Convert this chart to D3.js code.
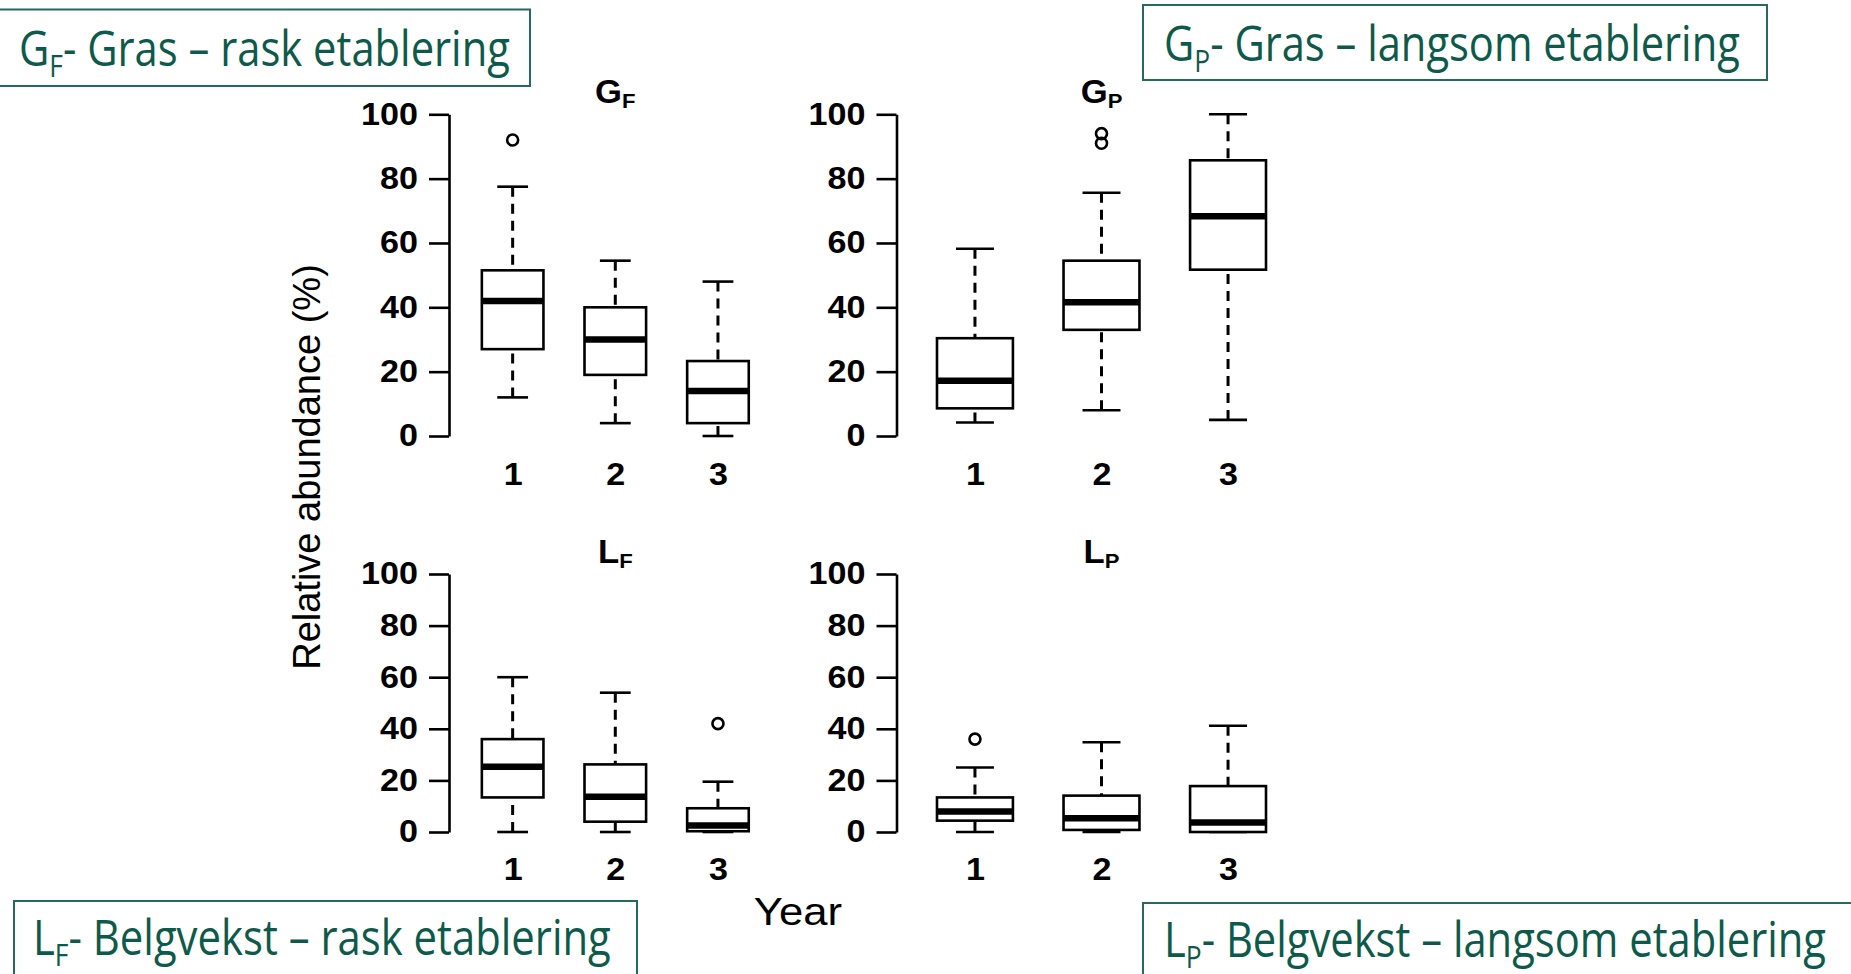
<!DOCTYPE html>
<html><head><meta charset="utf-8">
<script src="https://cdn.jsdelivr.net/npm/d3@7"></script>
<style>html,body{margin:0;padding:0;background:#fff;} svg{display:block;}</style>
</head><body>
<svg id="chart" width="1851" height="974"></svg>
<script>
// ---------- data ----------
const years = ["1", "2", "3"];
const yTicks = [0, 20, 40, 60, 80, 100];
// five-number summaries per year: [lower whisker, Q1, median, Q3, upper whisker]
const gfStats = [[12, 27, 42, 51.5, 77.5], [4, 19, 30, 40, 54.5], [0, 4, 14, 23.3, 48]];
const gfOutliers = [[92], [], []];
const gpStats = [[4.2, 8.6, 17.2, 30.4, 58.2], [8, 33, 41.6, 54.5, 75.6], [5, 51.7, 68.3, 85.7, 100]];
const gpOutliers = [[], [91, 94], []];
const lfStats = [[0, 13.4, 25.3, 36, 60], [0, 4, 13.7, 26.2, 54], [0, 0.3, 2.5, 9.2, 19.5]];
const lfOutliers = [[], [], [42]];
const lpStats = [[0, 4.4, 7.9, 13.4, 25], [0, 0.8, 5.3, 14.1, 34.8], [0, 0, 3.7, 17.8, 41.2]];
const lpOutliers = [[36], [], []];
const titleMain = ["G", "G", "L", "L"];
const titleSub = ["F", "P", "F", "P"];
const legendRest = ["- Gras – rask etablering", "- Gras – langsom etablering",
                    "- Belgvekst – rask etablering", "- Belgvekst – langsom etablering"];
const yLabel = "Relative abundance (%)";
const xLabel = "Year";

// ---------- layout ----------
const svg = d3.select("#chart");
const SX = 1.1; // horizontal stretch of the original figure text
const RFONT = "'Liberation Sans', Arial, Helvetica, sans-serif";
const panels = [
  {stats: gfStats, out: gfOutliers, xr: [449, 781.6], yr: [436, 114.3], titleY: 103, labY: 485},
  {stats: gpStats, out: gpOutliers, xr: [896.5, 1306.5], yr: [436, 114.3], titleY: 103, labY: 485},
  {stats: lfStats, out: lfOutliers, xr: [449, 781.6], yr: [832, 574], titleY: 563, labY: 880},
  {stats: lpStats, out: lpOutliers, xr: [896.5, 1306.5], yr: [832, 574], titleY: 563, labY: 880}
];

panels.forEach((p, pi) => {
  const x = d3.scaleLinear().domain([0.38, 3.62]).range(p.xr);
  const y = d3.scaleLinear().domain([0, 100]).range(p.yr);
  const bw = 0.6 * (x(2) - x(1));
  const g = svg.append("g");

  // y axis
  const ya = g.append("g").attr("transform", `translate(${p.xr[0]},0)`)
    .call(d3.axisLeft(y).tickValues(yTicks).tickSize(20).tickPadding(11).tickSizeOuter(0));
  ya.attr("font-family", RFONT).attr("font-size", 31).attr("font-weight", "bold");
  ya.select(".domain").attr("stroke", "#000").attr("stroke-width", 2.6);
  ya.selectAll(".tick line").attr("stroke", "#000").attr("stroke-width", 2.6);
  ya.selectAll(".tick text").attr("fill", "#000").each(function () {
    const t = d3.select(this); const xx = +t.attr("x");
    t.attr("x", 0).attr("transform", `translate(${xx},0) scale(${SX},1)`);
  });

  // x labels
  const xa = g.append("g").attr("transform", `translate(0,${p.labY})`)
    .call(d3.axisBottom(x).tickValues([1, 2, 3]).tickFormat((d, i) => years[i]).tickSize(0).tickPadding(0));
  xa.attr("font-family", RFONT).attr("font-size", 31).attr("font-weight", "bold");
  xa.select(".domain").remove();
  xa.selectAll(".tick text").attr("fill", "#000").attr("y", 0).attr("dy", 0)
    .attr("transform", `scale(${SX},1)`);

  // boxes
  p.stats.forEach((s, i) => {
    const cx = x(i + 1);
    const [lo, q1, md, q3, hi] = s;
    if (hi > q3) g.append("line").attr("x1", cx).attr("x2", cx).attr("y1", y(hi)).attr("y2", y(q3))
      .attr("stroke", "#000").attr("stroke-width", 3).attr("stroke-dasharray", "10,7");
    if (lo < q1) g.append("line").attr("x1", cx).attr("x2", cx).attr("y1", y(lo)).attr("y2", y(q1))
      .attr("stroke", "#000").attr("stroke-width", 3).attr("stroke-dasharray", "10,7");
    [lo, hi].forEach(v => g.append("line").attr("x1", cx - bw / 4).attr("x2", cx + bw / 4)
      .attr("y1", y(v)).attr("y2", y(v)).attr("stroke", "#000").attr("stroke-width", 2.6));
    g.append("rect").attr("x", cx - bw / 2).attr("y", y(q3)).attr("width", bw)
      .attr("height", Math.max(0, y(q1) - y(q3))).attr("fill", "#fff")
      .attr("stroke", "#000").attr("stroke-width", 2.6);
    g.append("line").attr("x1", cx - bw / 2).attr("x2", cx + bw / 2)
      .attr("y1", y(md)).attr("y2", y(md)).attr("stroke", "#000").attr("stroke-width", 6.5);
    p.out[i].forEach(v => g.append("circle").attr("cx", cx).attr("cy", y(v)).attr("r", 5.5)
      .attr("fill", "none").attr("stroke", "#000").attr("stroke-width", 2.6));
  });

  // title
  const tc = (p.xr[0] + p.xr[1]) / 2;
  const tt = g.append("text").attr("text-anchor", "middle").attr("font-family", RFONT)
    .attr("font-weight", "bold").attr("font-size", 33).attr("fill", "#000")
    .attr("transform", `translate(${tc},${p.titleY}) scale(1.05,1)`);
  tt.append("tspan").text(titleMain[pi]);
  tt.append("tspan").attr("font-size", 21).attr("dy", 5).text(titleSub[pi]);
});

// axis titles
svg.append("text").attr("transform", "translate(320,467) rotate(-90)")
  .attr("text-anchor", "middle").attr("font-family", RFONT).attr("font-size", 38)
  .attr("fill", "#000").text(yLabel);
svg.append("text").attr("transform", "translate(798,925) scale(1.15,1)")
  .attr("text-anchor", "middle").attr("font-family", RFONT).attr("font-size", 38)
  .attr("fill", "#000").text(xLabel);

// legend boxes
const legRects = [[-3, 9.5, 533, 76.5], [1143, 5, 624, 75], [14, 901, 623, 90], [1143, 903, 730, 90]];
const legText = [[19, 66, 491], [1164, 61, 576], [33, 955, 578], [1164, 957, 662]];
const TEAL = "#0d5a4b";
legRects.forEach((r, i) => {
  svg.append("rect").attr("x", r[0]).attr("y", r[1]).attr("width", r[2]).attr("height", r[3])
    .attr("fill", "#fff").attr("stroke", "#236b5c").attr("stroke-width", 2);
  const [x0, by, tw] = legText[i];
  const t = svg.append("text").attr("x", 0).attr("y", 0).attr("font-family", "'Open Sans', sans-serif")
    .attr("font-size", 49).attr("fill", TEAL);
  t.append("tspan").text(titleMain[i]);
  t.append("tspan").attr("font-size", 31).attr("dy", 11).text(titleSub[i]);
  t.append("tspan").attr("dy", -11).text(legendRest[i]);
  const w = t.node().getBBox().width;
  t.attr("transform", `translate(${x0},${by}) scale(${tw / w},1)`);
});
</script>
</body></html>
